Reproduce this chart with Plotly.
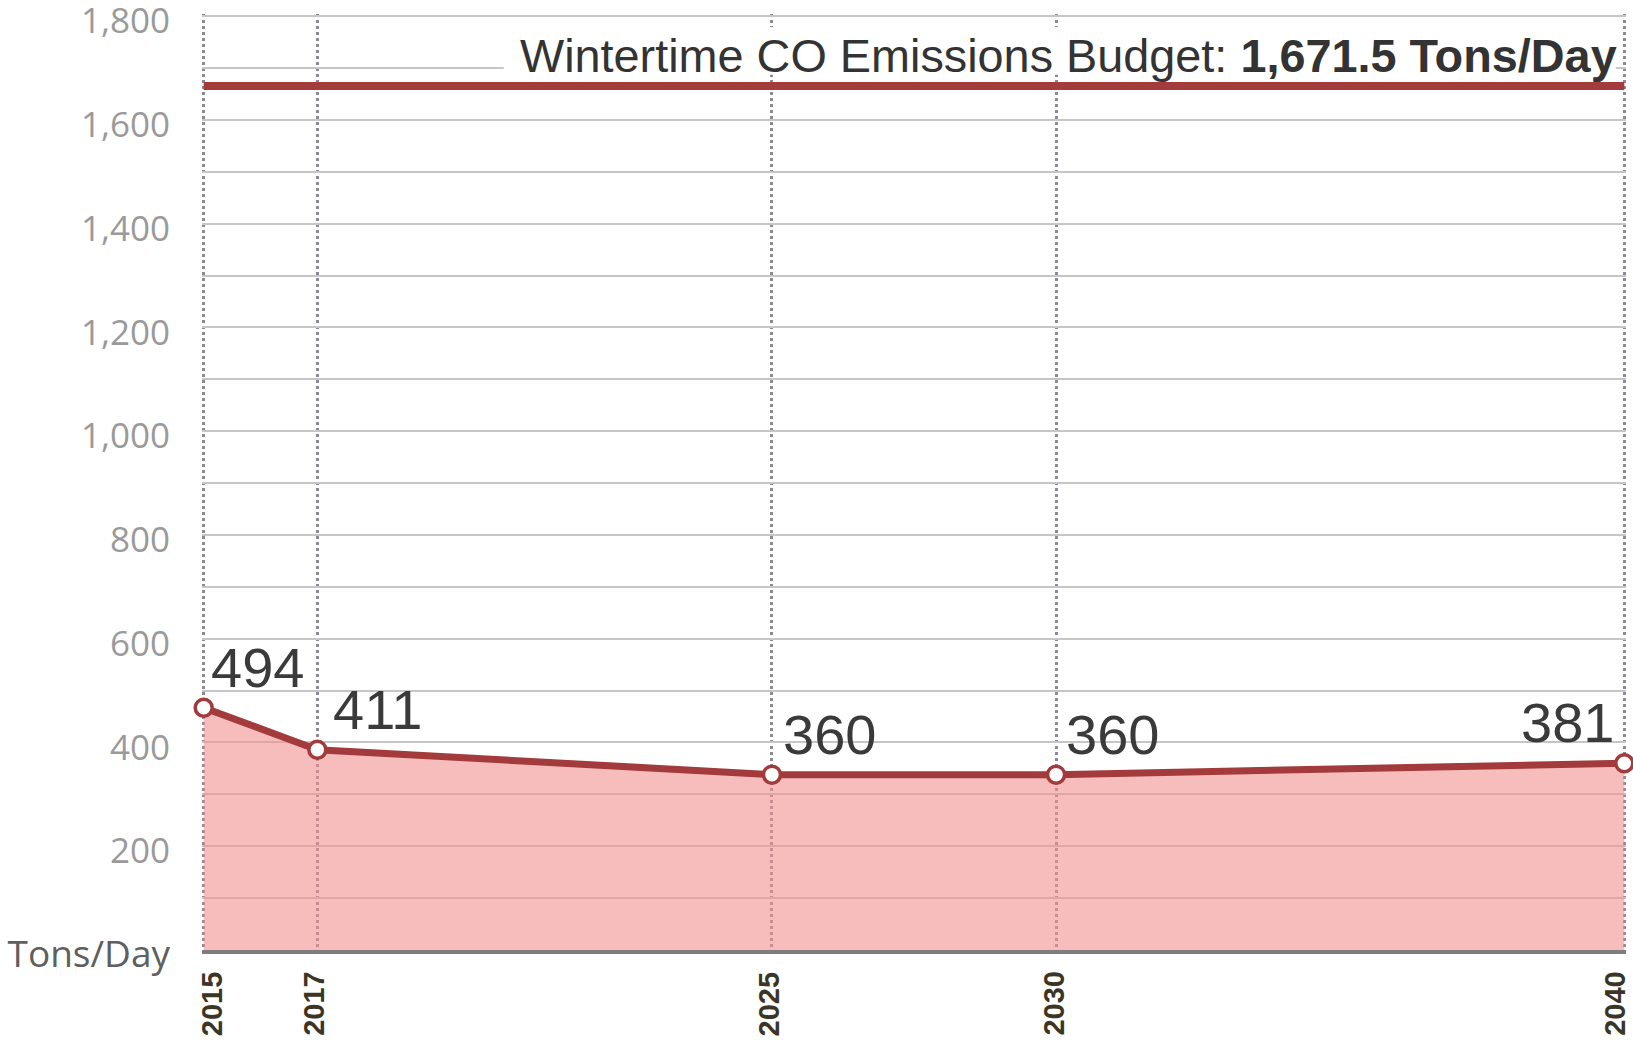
import plotly.graph_objects as go

# ---- data ----
years = [2015, 2017, 2025, 2030, 2040]
emissions_plotted = [467, 386, 338, 338, 360]      # positions of the markers as drawn
emission_labels = ["494", "411", "360", "360", "381"]  # printed values
budget_value = 1665
budget_label = "Wintertime CO Emissions Budget: <b>1,671.5 Tons/Day</b>"
y_ticks = list(range(0, 1900, 100))
y_ticktext = ["<span style='font-size:37px;color:#5f5f5f'>Tons/Day</span>"] + [
    (f"{v:,}" if v % 200 == 0 else "") for v in y_ticks[1:]
]
x_ticktext = [str(y) for y in years]

RED = "#a33a3c"

fig = go.Figure()

# area + line + markers
fig.add_trace(go.Scatter(
    x=years, y=emissions_plotted, mode="lines+markers",
    fill="tozeroy", fillcolor="rgba(241,145,145,0.6)",
    line=dict(color=RED, width=7),
    marker=dict(size=17, color="white", line=dict(color=RED, width=3.5)),
    cliponaxis=False, hoverinfo="skip", showlegend=False,
))

# budget line
fig.add_trace(go.Scatter(
    x=[years[0], years[-1]], y=[budget_value, budget_value], mode="lines",
    line=dict(color=RED, width=8), cliponaxis=False,
    hoverinfo="skip", showlegend=False,
))

# white box behind budget text
fig.add_shape(type="rect", xref="x", yref="y",
              x0=2020.28, x1=2039.85, y0=1687, y1=1779,
              fillcolor="white", line=dict(width=0), layer="between")

fig.add_annotation(
    x=2020.54, y=1724, xref="x", yref="y", xanchor="left", yanchor="middle",
    text=budget_label, showarrow=False, borderpad=0,
    font=dict(family="Liberation Sans, Arial", size=46.8, color="#333333"),
)

# value labels
anchors = ["left", "left", "left", "left", "right"]
xshifts = [6, 15, 10, 9, -9]
for xv, yv, lab, anc, xs in zip(years, emissions_plotted, emission_labels, anchors, xshifts):
    fig.add_annotation(
        x=xv, y=yv, xref="x", yref="y", text=lab, showarrow=False,
        xanchor=anc, yanchor="bottom", xshift=xs, yshift=8, borderpad=0,
        font=dict(family="Liberation Sans, Arial", size=56, color="#3a3a3a"),
    )

# rotated year labels under the axis
year_shifts = [8, -4, -3, -3, -10]
for xv, lab, xs in zip(years, x_ticktext, year_shifts):
    fig.add_annotation(
        x=xv, y=0, xref="x", yref="paper", text=lab, showarrow=False,
        textangle=-90, xanchor="center", yanchor="top", xshift=xs, yshift=-20,
        borderpad=0,
        font=dict(family="Liberation Sans, Arial", size=29, color="#3b3526",
                  weight="bold"),
    )

fig.update_xaxes(
    range=[years[0] - 0.03, years[-1] + 0.03], tickvals=years, ticktext=["" for _ in years],
    ticks="", automargin=False,
    showgrid=True, gridcolor="#8a8a94", gridwidth=3, griddash="dot",
    showline=True, linecolor="#7d7d7d", linewidth=4, zeroline=False,
)
fig.update_yaxes(
    range=[0, 1804], tickvals=y_ticks, ticktext=y_ticktext, ticks="",
    ticklabelstandoff=31, ticklabelshift=5, automargin=False,
    ticklabeloverflow="allow",
    tickfont=dict(family="Open Sans", size=35, color="#9a9a9a"),
    showgrid=True, gridcolor="#c6c6c6", gridwidth=1.6, zeroline=False,
    showline=False,
)

fig.update_layout(
    width=1633, height=1050,
    margin=dict(l=202, r=7, t=14, b=100),
    plot_bgcolor="white", paper_bgcolor="white",
    showlegend=False,
)

fig.write_html("out.html", config={"displayModeBar": False},
               post_script="document.body.style.margin='0';")
